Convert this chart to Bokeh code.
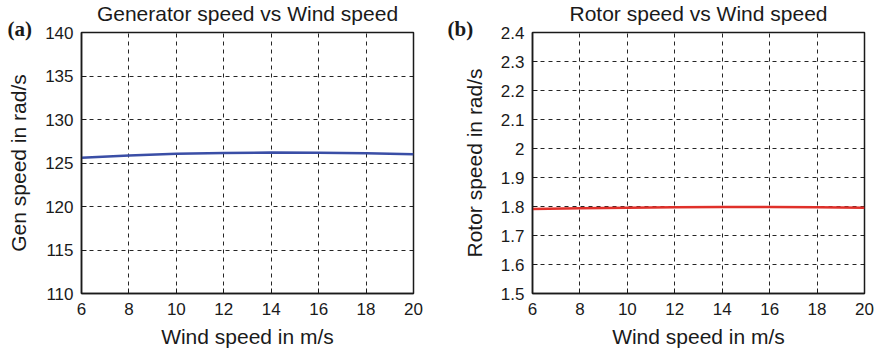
from bokeh.plotting import figure
from bokeh.layouts import row
from bokeh.models import Range1d, FixedTicker, Title
from bokeh.embed import file_html
from bokeh.resources import INLINE

# Wind speed sweep (m/s)
wind_speed = [6, 8, 10, 12, 14, 16, 18, 20]
# Generator speed (rad/s)
gen_speed = [125.6, 125.85, 126.05, 126.15, 126.2, 126.18, 126.12, 126.0]
# Rotor speed (rad/s)
rotor_speed = [1.791, 1.794, 1.796, 1.797, 1.798, 1.798, 1.797, 1.796]

x_ticks = [6, 8, 10, 12, 14, 16, 18, 20]
gen_ticks = [110, 115, 120, 125, 130, 135, 140]
rotor_ticks = [1.5, 1.6, 1.7, 1.8, 1.9, 2.0, 2.1, 2.2, 2.3, 2.4]
rotor_tick_labels = ["1.5", "1.6", "1.7", "1.8", "1.9", "2", "2.1", "2.2", "2.3", "2.4"]

SANS = "Liberation Sans"
SERIF = "Liberation Serif"
INK = "#1a1a1a"


def panel(left, right, y_range, y_ticks, y_label, title, tag, xs, ys, color):
    p = figure(width=left + 332 + right, height=352,
               frame_width=332, frame_height=261,
               min_border_left=left, min_border_right=right,
               min_border_top=32, min_border_bottom=59,
               x_range=Range1d(6, 20), y_range=y_range,
               output_backend="svg", toolbar_location=None)
    p.background_fill_color = "white"
    p.border_fill_color = "white"
    p.outline_line_color = INK
    p.outline_line_width = 1.5
    p.outline_line_alpha = 1.0

    for ax in (p.xaxis[0], p.yaxis[0]):
        ax.axis_line_color = INK
        ax.axis_line_width = 1.5
        ax.major_tick_in = 5
        ax.major_tick_out = 0
        ax.minor_tick_in = 0
        ax.minor_tick_out = 0
        ax.major_tick_line_color = INK
        ax.major_label_text_font = SANS
        ax.major_label_text_font_size = "17px"
        ax.major_label_text_color = INK
        ax.axis_label_text_font = SANS
        ax.axis_label_text_font_size = "21px"
        ax.axis_label_text_font_style = "normal"
        ax.axis_label_text_color = INK

    p.xaxis.ticker = FixedTicker(ticks=x_ticks)
    p.yaxis.ticker = FixedTicker(ticks=y_ticks)
    p.xaxis.axis_label = "Wind speed in m/s"
    p.yaxis.axis_label = y_label
    p.xaxis.major_label_standoff = 9
    p.yaxis.major_label_standoff = 8
    p.xaxis.axis_label_standoff = 7
    p.yaxis.axis_label_standoff = 12

    for g in (p.xgrid[0], p.ygrid[0]):
        g.grid_line_color = "black"
        g.grid_line_dash = "4 4"
        g.grid_line_width = 1
        g.grid_line_alpha = 0.85

    p.line(xs, ys, line_color=color, line_width=2.5)

    # panel tag, sitting just beside the top of the value axis
    p.add_layout(Title(text=tag, text_font=SERIF, text_font_size="21px",
                       text_font_style="bold", text_color=INK, align="left",
                       offset=7 - left, standoff=-17), "above")
    # centred heading above the plot area
    p.add_layout(Title(text=title, text_font=SANS, text_font_size="21px",
                       text_font_style="normal", text_color=INK,
                       align="center", standoff=-3), "above")
    return p


p1 = panel(81, 27, Range1d(110, 140), gen_ticks, "Gen speed in rad/s",
           "Generator speed vs Wind speed", "(a)", wind_speed, gen_speed, "#3a4ea6")
p2 = panel(92, 19, Range1d(1.5, 2.4), rotor_ticks, "Rotor speed in rad/s",
           "Rotor speed vs Wind speed", "(b)", wind_speed, rotor_speed, "#e0302a")
p2.yaxis.major_label_overrides = dict(zip(rotor_ticks, rotor_tick_labels))

layout = row(p1, p2, spacing=0)
open("out.html", "w").write(file_html(layout, INLINE))
